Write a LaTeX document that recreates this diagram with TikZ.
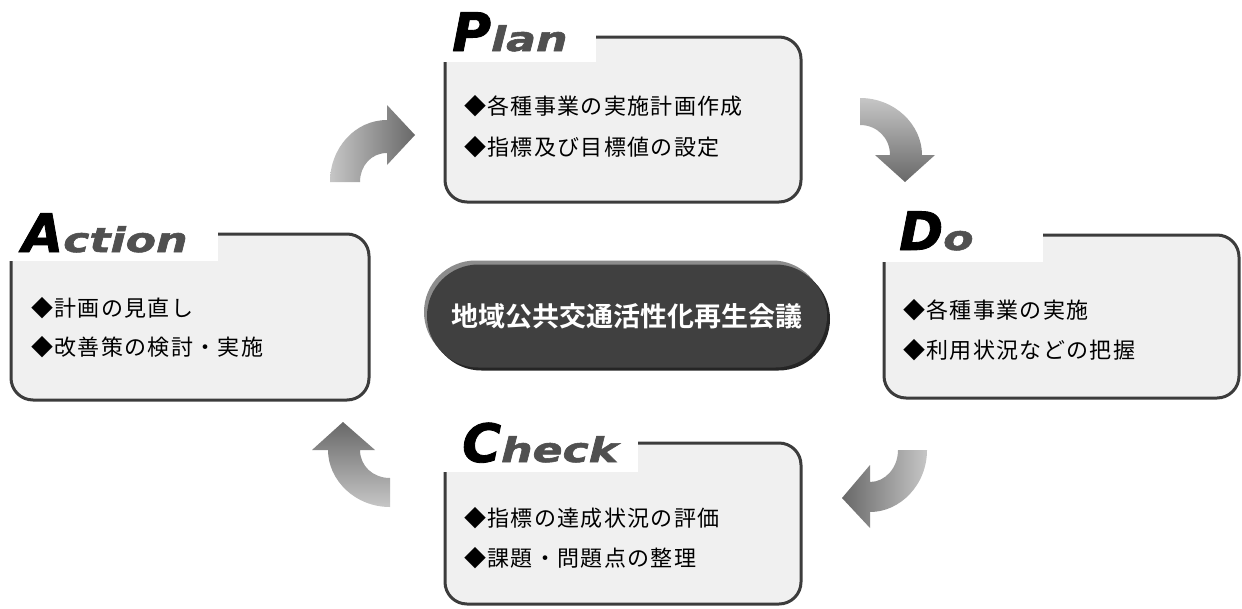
\documentclass[tikz,border=0pt]{standalone}
\usepackage{fontspec}
\usepackage{graphicx}
\usetikzlibrary{shapes.misc}
\newfontfamily\jp{Noto Sans CJK JP}[LetterSpace=6]
\newfontfamily\jpb{Noto Sans CJK JP Bold}
\newfontfamily\ttl{DejaVu Sans Bold Oblique}[FakeBold=1.6]
\definecolor{boxfill}{HTML}{F0F0F0}
\definecolor{boxline}{HTML}{3C3C3C}
\definecolor{tgray}{HTML}{505050}
\definecolor{pillmain}{HTML}{404040}
\definecolor{pilllight}{HTML}{8C8C8C}
\definecolor{pilldark}{HTML}{252525}
\definecolor{arlight}{HTML}{C6C6C6}
\definecolor{ardark}{HTML}{686868}
\newcommand{\ttitle}[2]{{\ttl\fontsize{53}{53}\selectfont #1}{\color{tgray}\scalebox{1.3}[1]{\ttl\fontsize{34}{34}\selectfont #2}}}
\begin{document}
\begin{tikzpicture}[x=1pt,y=-1pt,
  cbox/.style={draw=boxline, line width=3pt, fill=boxfill, rounded corners=22pt, inner sep=0pt},
  titlebg/.style={fill=white},
  ttlnode/.style={anchor=base west, inner sep=0pt},
  item/.style={anchor=west, inner sep=0pt, font=\jp\fontsize{22}{24}\selectfont},
  pillshape/.style={rounded rectangle, inner sep=0pt, minimum width=400pt, minimum height=103pt}
]
\useasboundingbox (0,0) rectangle (1242,608);
\fill[white] (0,0) rectangle (1242,608);

% boxes
\node[cbox, minimum width=356pt, minimum height=165pt] (plan) at (623,119.5) {};
\node[cbox, minimum width=355pt, minimum height=163pt] (do) at (1061.5,316.5) {};
\node[cbox, minimum width=358pt, minimum height=166pt] (act) at (190,317) {};
\node[cbox, minimum width=356pt, minimum height=161pt] (chk) at (623,523.5) {};

% title backgrounds
\fill[titlebg] (442,2) rectangle (596,62);
\fill[titlebg] (881,200) rectangle (1043,262);
\fill[titlebg] (8,200) rectangle (218,261);
\fill[titlebg] (442,410) rectangle (638,472);

% titles
\node[ttlnode] (plantitle) at (452,51) {\ttitle{P}{lan}};
\node[ttlnode] (dotitle) at (899,250) {\ttitle{D}{o}};
\node[ttlnode] (acttitle) at (22,252) {\ttitle{A}{ction}};
\node[ttlnode] (chktitle) at (462,462) {\ttitle{C}{heck}};

% items
\node[item] (p1) at (464,106) {◆各種事業の実施計画作成};
\node[item] (p2) at (464,147) {◆指標及び目標値の設定};
\node[item] (d1) at (903,310) {◆各種事業の実施};
\node[item] (d2) at (903,350) {◆利用状況などの把握};
\node[item] (a1) at (31,308) {◆計画の見直し};
\node[item] (a2) at (31,347) {◆改善策の検討・実施};
\node[item] (c1) at (464,518) {◆指標の達成状況の評価};
\node[item] (c2) at (464,558) {◆課題・問題点の整理};

% center pill
\node[pillshape, fill=pilllight] (pilll) at (624,312) {};
\node[pillshape, fill=pilldark] (pilld) at (630,319) {};
\node[pillshape, fill=pillmain, text=white, font=\jpb\fontsize{27}{30}\selectfont] (center) at (627,316) {地域公共交通活性化再生会議};

% curved arrows
\shade[left color=arlight, right color=ardark]
  (330,182) .. controls (330,148) and (355,120) .. (387,120) -- (387,105) -- (415,135) -- (387,165) -- (387,153)
  .. controls (371,153) and (360,166) .. (360,182) -- cycle;
\shade[top color=arlight, bottom color=ardark]
  (860,98) .. controls (895,98) and (922,125) .. (922,155) -- (935,155) -- (905,182) -- (875,155) -- (890,155)
  .. controls (890,138) and (877,125) .. (860,125) -- cycle;
\shade[right color=arlight, left color=ardark]
  (927,450) .. controls (927,485) and (900,512) .. (870,512) -- (870,528) -- (842,498) -- (870,465) -- (870,482)
  .. controls (885,482) and (898,468) .. (898,450) -- cycle;
\shade[bottom color=arlight, top color=ardark]
  (390,507) .. controls (355,507) and (328,480) .. (328,450) -- (312,450) -- (343,422) -- (375,450) -- (360,450)
  .. controls (360,466) and (373,478) .. (390,478) -- cycle;
\end{tikzpicture}
\end{document}
